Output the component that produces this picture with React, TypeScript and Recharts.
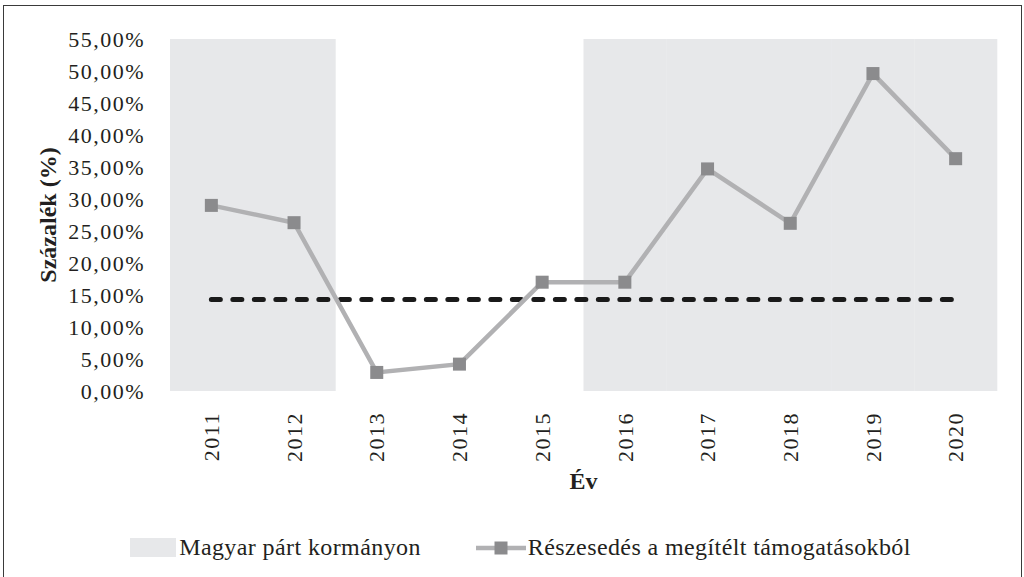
import React from "react";
import {
  ComposedChart,
  Bar,
  Line,
  XAxis,
  YAxis,
  Legend,
} from "recharts";

const years = ["2011", "2012", "2013", "2014", "2015", "2016", "2017", "2018", "2019", "2020"];
const shareValues = [29.0, 26.3, 2.9, 4.2, 17.0, 17.0, 34.7, 26.2, 49.6, 36.3];
const inGovernment = [true, true, false, false, false, true, true, true, true, true];
const averageShare = 14.3;
const yTicks = [0, 5, 10, 15, 20, 25, 30, 35, 40, 45, 50, 55];

const govBandTop = 55;

const data = years.map((year, i) => ({
  year,
  share: shareValues[i],
  gov: inGovernment[i] ? govBandTop : 0,
  avg: averageShare,
}));

const FONT = "'Liberation Serif', 'DejaVu Serif', serif";
const TEXT = "#231f20";
const BAND = "#e7e8ea";
const LINE = "#b1b1b3";
const MARKER = "#8b8b8d";

const fmtPct = (v: number) => `${v.toFixed(2).replace(".", ",")}%`;

const YearTick = (props: any) => {
  const { x, y, payload } = props;
  return (
    <text
      x={x}
      y={y + 13}
      transform={`rotate(-90, ${x}, ${y + 13})`}
      textAnchor="end"
      dy="0.35em"
      fontFamily={FONT}
      fontSize={22}
      letterSpacing={1.5}
      fill={TEXT}
    >
      {payload.value}
    </text>
  );
};

const SquareDot = (props: any) => {
  const { cx, cy, index } = props;
  if (cx == null || cy == null) return <g key={`d-${index}`} />;
  return <rect key={`d-${index}`} x={cx - 6.5} y={cy - 6.5} width={13} height={13} fill={MARKER} />;
};

const LegendContent = () => (
  <div
    style={{
      display: "flex",
      justifyContent: "center",
      alignItems: "center",
      fontFamily: FONT,
      fontSize: 24,
      letterSpacing: 0.4,
      color: TEXT,
      paddingLeft: 17,
    }}
  >
    <span style={{ display: "inline-block", width: 46, height: 19, background: BAND, marginRight: 3 }} />
    <span>Magyar párt kormányon</span>
    <svg width={50} height={20} style={{ marginLeft: 55, marginRight: 2 }}>
      <line x1={0} y1={10} x2={50} y2={10} stroke={LINE} strokeWidth={4.5} />
      <rect x={18.5} y={3.5} width={13} height={13} fill={MARKER} />
    </svg>
    <span>Részesedés a megítélt támogatásokból</span>
  </div>
);

export default function App() {
  return (
    <div style={{ position: "absolute", left: 0, top: 0, width: 1024, height: 577, background: "#fff" }}>
      <div
        style={{
          position: "absolute",
          left: 3,
          top: 5,
          width: 1017,
          height: 600,
          border: "1.5px solid #3a3a3a",
        }}
      />
      <div style={{ position: "absolute", left: 0, top: 0 }}>
        <ComposedChart
          width={1024}
          height={577}
          data={data}
          barCategoryGap={0}
          margin={{ top: 39, right: 27, bottom: 46, left: 0 }}
        >
          <XAxis
            dataKey="year"
            height={100}
            axisLine={false}
            tickLine={false}
            interval={0}
            tick={<YearTick />}
            label={{
              value: "Év",
              position: "insideBottom",
              offset: 2,
              style: { fontFamily: FONT, fontSize: 24, fontWeight: 700, fill: TEXT },
            }}
          />
          <YAxis
            width={170}
            domain={[0, 55]}
            ticks={yTicks}
            interval={0}
            axisLine={false}
            tickLine={false}
            tickSize={0}
            tickMargin={25}
            tickFormatter={fmtPct}
            tick={{ fontFamily: FONT, fontSize: 22, fill: TEXT, letterSpacing: 1.5 }}
            label={{
              value: "Százalék (%)",
              angle: -90,
              position: "insideLeft",
              offset: 47,
              style: { fontFamily: FONT, fontSize: 24, fontWeight: 700, fill: TEXT, textAnchor: "middle" },
            }}
          />
          <Bar dataKey="gov" fill={BAND} isAnimationActive={false} legendType="rect" />
          <Line
            dataKey="avg"
            stroke="#1a1a1a"
            strokeWidth={5}
            strokeDasharray="9 12.5"
            strokeLinecap="round"
            dot={false}
            activeDot={false}
            isAnimationActive={false}
            legendType="none"
          />
          <Line
            dataKey="share"
            stroke={LINE}
            strokeWidth={4.5}
            dot={<SquareDot />}
            activeDot={false}
            isAnimationActive={false}
          />
          <Legend
            verticalAlign="bottom"
            height={40}
            content={<LegendContent />}
            wrapperStyle={{ top: 534, bottom: "auto", left: 0, width: 1024 }}
          />
        </ComposedChart>
      </div>
    </div>
  );
}
